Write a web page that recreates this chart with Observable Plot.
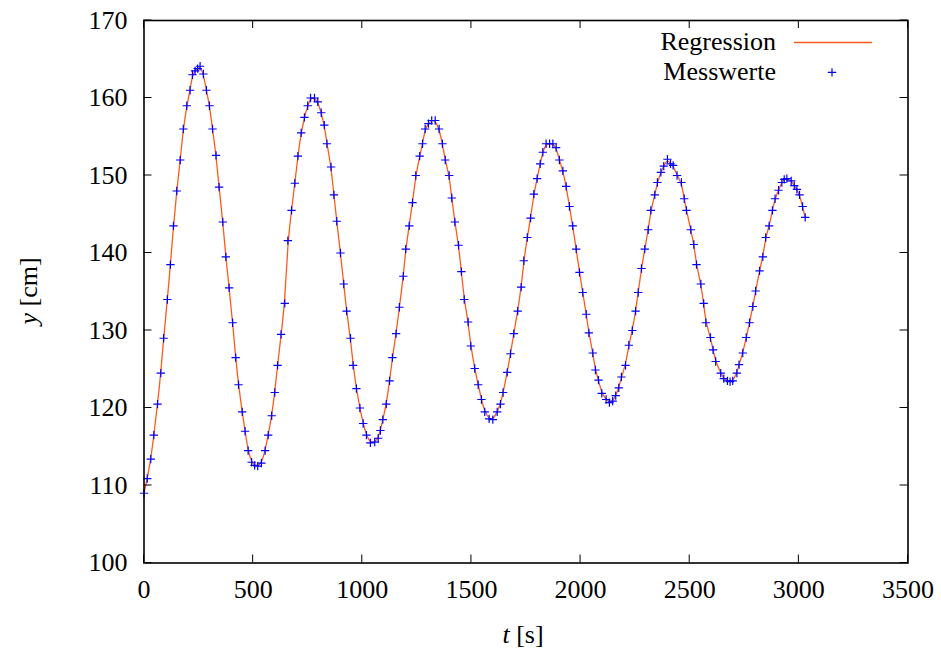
<!DOCTYPE html>
<html><head><meta charset="utf-8">
<script src="https://cdn.jsdelivr.net/npm/d3@7"></script>
<script src="https://cdn.jsdelivr.net/npm/@observablehq/plot@0.6"></script>
<style>body{margin:0;background:#fff}</style>
</head><body><div id="chart"></div>
<script>
const tValues = [0,15,31,45,62,77,90,107,121,135,150,166,180,196,211,222,234,246,257,272,286,300,314,330,344,361,375,390,406,420,433,450,463,477,493,507,521,538,555,569,585,599,612,628,645,659,676,691,705,720,735,750,763,781,796,812,826,838,857,870,883,900,915,928,946,958,973,989,1004,1019,1037,1057,1073,1083,1094,1110,1125,1138,1155,1170,1188,1199,1215,1230,1245,1263,1276,1288,1303,1318,1334,1352,1367,1380,1398,1410,1424,1441,1454,1467,1485,1497,1515,1531,1546,1561,1581,1598,1618,1633,1645,1664,1679,1694,1712,1728,1740,1756,1771,1786,1801,1815,1827,1842,1858,1873,1888,1903,1919,1934,1949,1964,1980,1995,2010,2026,2038,2056,2068,2082,2097,2117,2132,2147,2161,2175,2187,2206,2221,2237,2252,2264,2279,2294,2310,2322,2340,2352,2368,2381,2398,2412,2424,2442,2462,2475,2485,2505,2519,2531,2551,2564,2574,2595,2607,2619,2642,2656,2673,2685,2697,2716,2726,2743,2759,2774,2789,2802,2820,2835,2848,2864,2879,2891,2907,2922,2933,2945,2965,2979,2991,3003,3017,3029];
const yValues = [109.0,110.9,113.4,116.5,120.5,124.5,129.0,134.0,138.5,143.5,148.0,152.0,156.0,159.0,161.0,163.0,163.5,163.8,164.1,163.1,161.0,159.0,156.0,152.6,148.5,144.0,139.5,135.5,131.0,126.5,123.0,119.5,117.0,114.5,113.0,112.6,112.5,112.9,114.5,116.5,119.0,122.0,125.5,129.5,133.5,141.6,145.5,149.0,152.5,155.5,157.5,159.0,160.0,160.0,159.5,158.1,156.5,154.1,151.1,147.5,144.1,140.0,136.0,132.5,129.0,125.5,122.5,120.0,118.0,116.5,115.5,115.6,116.1,117.1,118.5,120.5,123.5,126.5,129.6,133.0,137.0,140.5,143.5,146.5,150.0,152.5,154.1,156.0,156.7,157.1,157.1,156.0,154.1,152.0,150.0,147.1,144.0,141.0,137.6,134.0,131.1,128.0,125.1,123.0,121.1,119.5,118.6,118.5,119.5,120.5,122.0,124.6,127.0,129.6,132.5,135.6,139.0,142.0,144.5,147.6,149.6,151.5,153.0,154.1,154.1,154.1,153.6,152.0,150.6,148.6,146.0,143.5,140.5,137.5,134.9,132.1,129.7,127.1,124.9,123.6,121.9,121.1,120.7,120.9,121.6,122.6,124.0,125.5,128.1,130.0,132.5,134.9,138.0,140.5,143.0,145.5,147.5,149.1,150.4,151.2,152.1,151.5,151.3,150.0,149.1,147.0,145.5,143.0,141.1,138.5,136.0,133.5,131.0,129.1,127.5,126.0,124.5,123.8,123.5,123.4,123.5,124.5,125.6,127.1,129.1,131.0,133.1,135.1,137.7,139.5,142.0,143.5,145.5,147.0,148.1,149.1,149.5,149.6,149.3,148.7,148.2,147.5,146.0,144.6];
const xTicks = [0,500,1000,1500,2000,2500,3000,3500];
const yTicks = [100,110,120,130,140,150,160,170];
const seriesNames = ["Regression","Messwerte"];
const xLabel = ["t", " [s]"];
const yLabel = ["y", " [cm]"];

const data = tValues.map((t, i) => ({t, y: yValues[i]}));

// pick an installed serif font
function pickSerif() {
  const ctx = document.createElement("canvas").getContext("2d");
  const probe = "Regression Messwerte 0123456789 [cm]";
  const w = f => { ctx.font = "40px " + f; return ctx.measureText(probe).width; };
  const mono = w("monospace"), sans = w("'Liberation Sans'"), dv = w("'DejaVu Sans'");
  const cands = ["Liberation Serif", "DejaVu Serif", "Noto Serif", "Times New Roman", "Tinos", "FreeSerif", "Nimbus Roman", "TeX Gyre Termes", "Georgia"];
  for (const c of cands) {
    const v = w(`'${c}', monospace`);
    if (Math.abs(v - mono) > 0.5 && Math.abs(v - sans) > 0.5 && Math.abs(v - dv) > 0.5) return `'${c}', serif`;
  }
  return "serif";
}
const FONT = pickSerif();
const FS = 26;
const LINE = "#ff5a1a";
const BLUE = "#0000ff";

const plot = Plot.plot({
  width: 941, height: 651,
  marginLeft: 143.5, marginRight: 33.5, marginTop: 20, marginBottom: 88.5,
  style: {fontFamily: FONT, fontSize: FS + "px", background: "#fff", color: "#000"},
  x: {domain: [0, 3500]},
  y: {domain: [100, 170]},
  marks: [
    Plot.axisX(xTicks, {anchor: "bottom", tickSize: 0, tickPadding: 16.5, label: null, fontSize: FS, tickFormat: d => String(d)}),
    Plot.axisY(yTicks, {anchor: "left", tickSize: 0, tickPadding: 16.5, label: null, fontSize: FS, tickFormat: d => String(d)}),
    Plot.line(data, {x: "t", y: "y", stroke: LINE, strokeWidth: 1.3, curve: "basis"}),
    Plot.dot(data, {x: "t", y: "y", symbol: "plus", r: 2.8, stroke: BLUE, strokeWidth: 1.2}),
    Plot.frame({stroke: "#000", strokeWidth: 1.6})
  ]
});

const svg = d3.select(plot);
svg.style("font-family", FONT);
const xs = plot.scale("x"), ys = plot.scale("y");
const [L, R] = xs.range, [B, T] = ys.range;
const g = svg.append("g").attr("stroke", "#000").attr("stroke-width", 1);
const TL = 8;
for (const v of xTicks) {
  const x = xs.apply(v);
  g.append("line").attr("x1", x).attr("x2", x).attr("y1", B).attr("y2", B - TL);
  g.append("line").attr("x1", x).attr("x2", x).attr("y1", T).attr("y2", T + TL);
}
for (const v of yTicks) {
  const y = ys.apply(v);
  g.append("line").attr("x1", L).attr("x2", L + TL).attr("y1", y).attr("y2", y);
  g.append("line").attr("x1", R).attr("x2", R - TL).attr("y1", y).attr("y2", y);
}

function label(parts, attrs) {
  const t = svg.append("text").style("font-family", FONT).attr("font-size", FS).attr("fill", "#000");
  for (const [k, v] of Object.entries(attrs)) t.attr(k, v);
  t.append("tspan").attr("font-style", "italic").text(parts[0]);
  t.append("tspan").text(parts[1]);
  return t;
}
label(yLabel, {transform: "translate(37,291) rotate(-90)", "text-anchor": "middle"});
label(xLabel, {x: 523, y: 643, "text-anchor": "middle"});

// legend
const leg = svg.append("g").style("font-family", FONT).attr("font-size", FS);
leg.append("text").attr("x", 776).attr("y", 49.5).attr("text-anchor", "end").text(seriesNames[0]);
leg.append("text").attr("x", 776).attr("y", 79.5).attr("text-anchor", "end").text(seriesNames[1]);
leg.append("line").attr("x1", 794).attr("x2", 872).attr("y1", 42.5).attr("y2", 42.5)
  .attr("stroke", LINE).attr("stroke-width", 1.3);
leg.append("path").attr("transform", "translate(832,72.3)")
  .attr("d", d3.symbol(d3.symbolPlus, Math.PI * 2.8 * 2.8)())
  .attr("fill", "none").attr("stroke", BLUE).attr("stroke-width", 1.2);

document.getElementById("chart").append(plot);
</script>
</body></html>
